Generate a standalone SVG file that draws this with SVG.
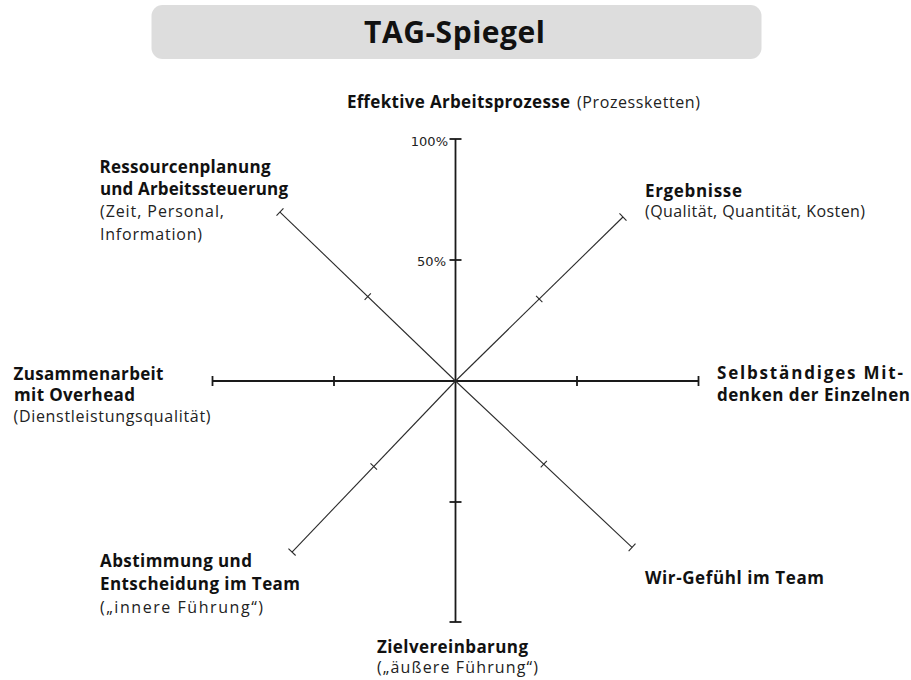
<svg xmlns="http://www.w3.org/2000/svg" width="911" height="680" viewBox="0 0 911 680">
<style>
  .b { font-family: "Open Sans", "Liberation Sans", Arial, sans-serif; font-weight: bold; font-size: 17px; fill: #111; }
  .r { font-family: "Open Sans", "Liberation Sans", Arial, sans-serif; font-size: 16px; fill: #222; }
  .pct { font-family: "DejaVu Sans", Verdana, sans-serif; font-size: 13px; fill: #222; text-anchor: end; }
  .axis { stroke: #1a1a1a; stroke-width: 1.8; fill: none; }
  .diag { stroke: #2a2a2a; stroke-width: 1.1; fill: none; }
  .title { font-family: "Open Sans", "Liberation Sans", Arial, sans-serif; font-weight: bold; font-size: 30px; fill: #111; text-anchor: middle; }
</style>
<rect width="911" height="680" fill="#ffffff"/>

<g id="title">
  <rect x="151.5" y="5" width="610" height="54" rx="11" fill="#dddddd"/>
  <text class="title" x="454.5" y="43" textLength="181">TAG-Spiegel</text>
</g>

<g id="connectors">
  <!-- horizontal axis -->
  <line class="axis" x1="212.5" y1="381" x2="698.5" y2="381"/>
  <line class="axis" x1="212.5" y1="376" x2="212.5" y2="386"/>
  <line class="axis" x1="334" y1="376" x2="334" y2="386"/>
  <line class="axis" x1="577" y1="376" x2="577" y2="386"/>
  <line class="axis" x1="698.5" y1="376" x2="698.5" y2="386"/>
  <!-- vertical axis -->
  <line class="axis" x1="455.5" y1="139" x2="455.5" y2="622"/>
  <line class="axis" x1="449.5" y1="139" x2="461.5" y2="139"/>
  <line class="axis" x1="449.5" y1="260" x2="461.5" y2="260"/>
  <line class="axis" x1="449.5" y1="502" x2="461.5" y2="502"/>
  <line class="axis" x1="449.5" y1="622" x2="461.5" y2="622"/>
  <!-- diagonal axes -->
  <g transform="translate(455.5 381) rotate(-44.4)">
    <line class="diag" x1="0" y1="0" x2="234.4" y2="0"/>
    <line class="diag" x1="117.2" y1="-4.5" x2="117.2" y2="4.5"/>
    <line class="diag" x1="234.4" y1="-5" x2="234.4" y2="5"/>
  </g>
  <g transform="translate(455.5 381) rotate(-136.1)">
    <line class="diag" x1="0" y1="0" x2="243.6" y2="0"/>
    <line class="diag" x1="121.8" y1="-4.5" x2="121.8" y2="4.5"/>
    <line class="diag" x1="243.6" y1="-5" x2="243.6" y2="5"/>
  </g>
  <g transform="translate(455.5 381) rotate(133.7)">
    <line class="diag" x1="0" y1="0" x2="236.6" y2="0"/>
    <line class="diag" x1="118.3" y1="-4.5" x2="118.3" y2="4.5"/>
    <line class="diag" x1="236.6" y1="-5" x2="236.6" y2="5"/>
  </g>
  <g transform="translate(455.5 381) rotate(43.3)">
    <line class="diag" x1="0" y1="0" x2="242.6" y2="0"/>
    <line class="diag" x1="121.3" y1="-4.5" x2="121.3" y2="4.5"/>
    <line class="diag" x1="242.6" y1="-5" x2="242.6" y2="5"/>
  </g>
  <text class="pct" x="448" y="146">100%</text>
  <text class="pct" x="446" y="266">50%</text>
</g>

<g id="node-top">
  <text class="b" x="347" y="108" textLength="223">Effektive Arbeitsprozesse</text>
  <text class="r" x="577" y="108" textLength="123">(Prozessketten)</text>
</g>

<g id="node-upper-left">
  <text class="b" x="99.5" y="173" textLength="171">Ressourcenplanung</text>
  <text class="b" x="100" y="195" textLength="188">und Arbeitssteuerung</text>
  <text class="r" x="100" y="217" textLength="124">(Zeit, Personal,</text>
  <text class="r" x="100" y="239.5" textLength="102">Information)</text>
</g>

<g id="node-upper-right">
  <text class="b" x="645" y="197" textLength="97">Ergebnisse</text>
  <text class="r" x="645" y="217" textLength="220">(Qualität, Quantität, Kosten)</text>
</g>

<g id="node-left">
  <text class="b" x="13.5" y="380" textLength="150">Zusammenarbeit</text>
  <text class="b" x="14" y="401" textLength="121">mit Overhead</text>
  <text class="r" x="13.5" y="421.5" textLength="197">(Dienstleistungsqualität)</text>
</g>

<g id="node-right">
  <text class="b" x="717" y="378.5" textLength="186">Selbständiges Mit-</text>
  <text class="b" x="717" y="400.5" textLength="193">denken der Einzelnen</text>
</g>

<g id="node-lower-left">
  <text class="b" x="100" y="567" textLength="152">Abstimmung und</text>
  <text class="b" x="100" y="590" textLength="200">Entscheidung im Team</text>
  <text class="r" x="100" y="613" textLength="163">(„innere Führung“)</text>
</g>

<g id="node-bottom">
  <text class="b" x="377" y="652.5" textLength="151">Zielvereinbarung</text>
  <text class="r" x="377" y="673" textLength="161">(„äußere Führung“)</text>
</g>

<g id="node-lower-right">
  <text class="b" x="645" y="584" textLength="179">Wir-Gefühl im Team</text>
</g>
</svg>
